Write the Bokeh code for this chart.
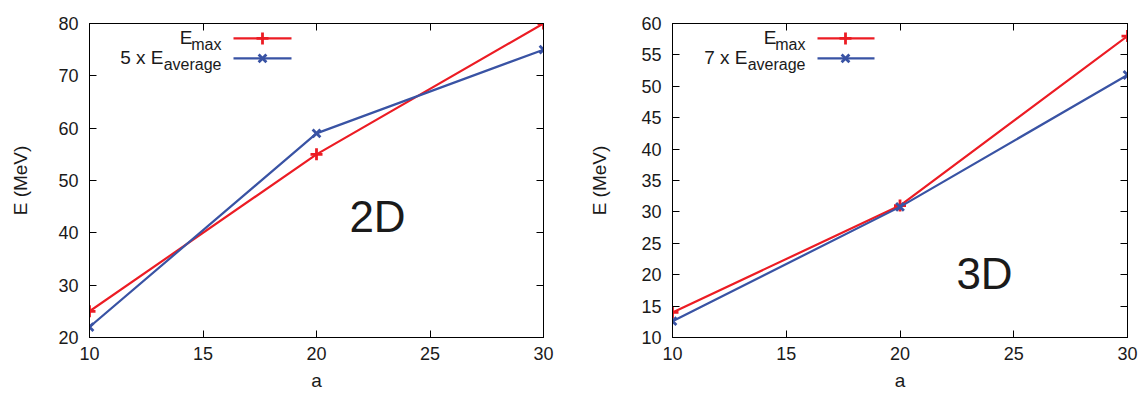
from bokeh.plotting import figure
from bokeh.models import LinearAxis, FixedTicker, Range1d, Label
from bokeh.layouts import row
from bokeh.embed import file_html
from bokeh.resources import INLINE

# ---- data ----
a_values = [10, 20, 30]
emax_2d = [25, 55, 80]
eavg_x5_2d = [22, 59, 75]
emax_3d = [14, 31, 58]
eavg_x7_3d = [12.6, 30.8, 51.8]

x_ticks = [10, 15, 20, 25, 30]
y_ticks_2d = [20, 30, 40, 50, 60, 70, 80]
y_ticks_3d = [10, 15, 20, 25, 30, 35, 40, 45, 50, 55, 60]

RED = "#ec1c24"
BLUE = "#3953a4"
FONT = "Liberation Sans"
TXT = "#1a1a1a"

H = 393
TOP, BOTTOM = 23, 55


def make_panel(width, bl, br, ylim, yticks, emax, eavg, factor, tag, tag_px, leg_px, ylab_standoff):
    p = figure(width=width, height=H, output_backend="svg", toolbar_location=None,
               x_range=Range1d(10, 30), y_range=Range1d(*ylim),
               min_border_left=bl, min_border_right=br,
               min_border_top=TOP, min_border_bottom=BOTTOM)
    p.grid.visible = False
    p.outline_line_color = "black"
    p.outline_line_width = 1
    p.background_fill_color = "white"
    p.border_fill_color = "white"

    p.xaxis.ticker = FixedTicker(ticks=x_ticks)
    p.yaxis.ticker = FixedTicker(ticks=yticks)
    for ax in (p.xaxis[0], p.yaxis[0]):
        ax.major_tick_in = 7
        ax.major_tick_out = 0
        ax.minor_tick_line_color = None
        ax.axis_line_color = "black"
        ax.major_tick_line_color = "black"
        ax.major_label_text_font = FONT
        ax.major_label_text_font_size = "18px"
        ax.major_label_text_color = TXT
        ax.axis_label_text_font = FONT
        ax.axis_label_text_font_size = "19px"
        ax.axis_label_text_font_style = "normal"
        ax.axis_label_text_color = TXT
    p.xaxis.axis_label = "a"
    p.xaxis.major_label_standoff = 9
    p.xaxis.axis_label_standoff = 7
    p.yaxis.axis_label = "E (MeV)"
    p.yaxis.major_label_standoff = 11
    p.yaxis.axis_label_standoff = ylab_standoff

    # mirrored ticks on the right and top, no labels
    for loc, ticks in (("right", yticks), ("above", x_ticks)):
        ax = LinearAxis(ticker=FixedTicker(ticks=ticks))
        ax.major_tick_in = 7
        ax.major_tick_out = 0
        ax.minor_tick_line_color = None
        ax.major_label_text_color = None
        ax.major_label_standoff = 0
        ax.axis_line_color = "black"
        p.add_layout(ax, loc)

    # series
    p.line(a_values, emax, line_color=RED, line_width=2.2)
    p.scatter(a_values, emax, marker="cross", size=12, line_color=RED, line_width=2.8)
    p.line(a_values, eavg, line_color=BLUE, line_width=2.2)
    p.scatter(a_values, eavg, marker="x", size=11, line_color=BLUE, line_width=2.8)

    # pixel -> data helpers (frame geometry)
    fx0 = bl
    fw = width - bl - br
    fh = H - TOP - BOTTOM
    y0, y1 = ylim

    def dx(px):
        return 10 + (px - fx0) * 20.0 / fw

    def dy(py):
        return y1 - (py - TOP) * (y1 - y0) / fh

    # gnuplot-style key: text right-aligned, then sample line + marker
    text_r, line_l, line_r, mark_x, row1, row2 = leg_px
    for rowy, color, marker, size in ((row1, RED, "cross", 12), (row2, BLUE, "x", 11)):
        p.line([dx(line_l), dx(line_r)], [dy(rowy), dy(rowy)], line_color=color, line_width=2.2)
        p.scatter([dx(mark_x)], [dy(rowy)], marker=marker, size=size, line_color=color, line_width=2.8)

    sub_font = "16px"
    main_font = "19px"
    entries = ((row1, "E", "max"), (row2, factor + " x E", "average"))
    sub_w = {"max": 29, "average": 58}
    for rowy, main, sub in entries:
        p.add_layout(Label(x=dx(text_r), y=dy(rowy), text=sub, text_align="right",
                           text_baseline="middle", y_offset=-6, text_font=FONT,
                           text_font_size=sub_font, text_color=TXT))
        p.add_layout(Label(x=dx(text_r), y=dy(rowy), text=main, text_align="right",
                           text_baseline="middle", x_offset=-sub_w[sub], y_offset=1,
                           text_font=FONT, text_font_size=main_font, text_color=TXT))

    tx, ty = tag_px
    p.add_layout(Label(x=dx(tx), y=dy(ty), text=tag, text_align="center",
                       text_baseline="middle", text_font=FONT, text_font_size="44px",
                       text_color=TXT))
    return p


left = make_panel(575, 89, 32, (20, 80), y_ticks_2d, emax_2d, eavg_x5_2d, "5", "2D",
                  (377, 217), (221, 233, 291, 262, 38, 58), 24)
right = make_panel(566, 97, 14, (10, 60), y_ticks_3d, emax_3d, eavg_x7_3d, "7", "3D",
                   (984 - 575, 274), (805 - 575, 817 - 575, 874 - 575, 845 - 575, 38, 58), 28)

layout = row(left, right)
open("out.html", "w").write(file_html(layout, INLINE))
